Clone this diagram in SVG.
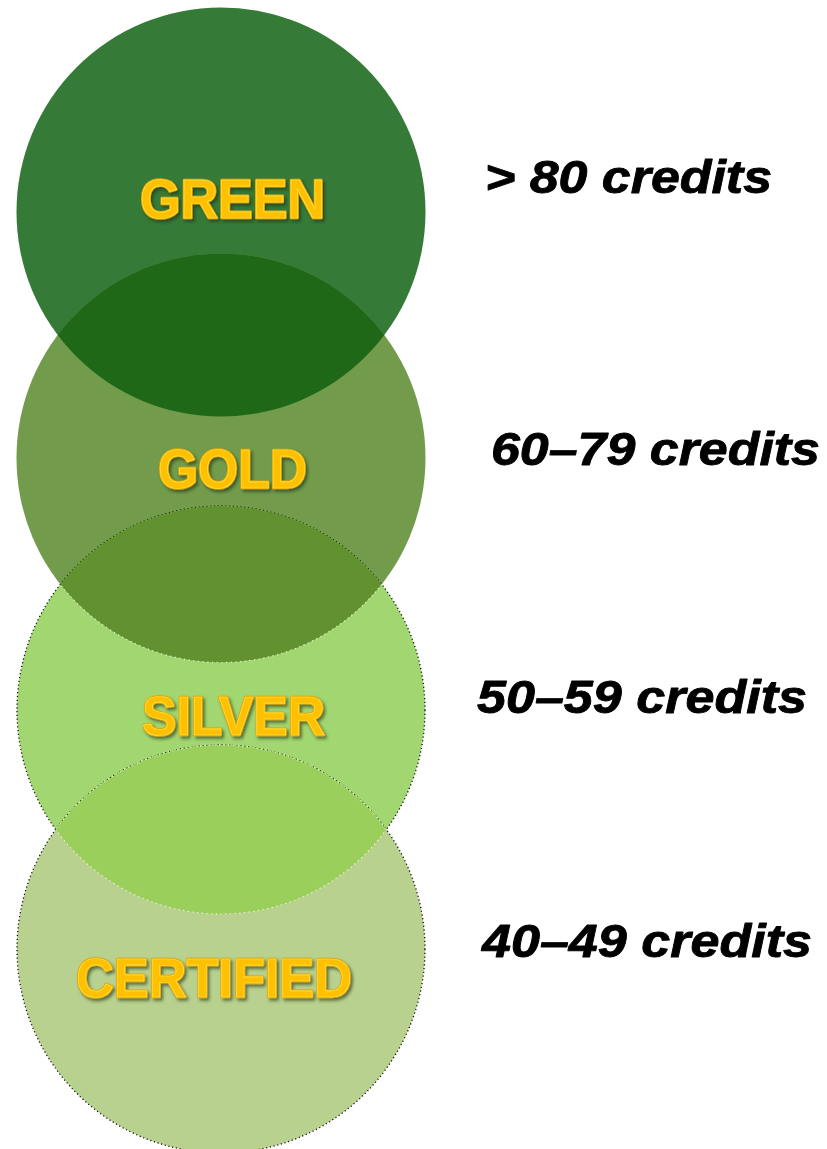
<svg xmlns="http://www.w3.org/2000/svg" width="827" height="1149" viewBox="0 0 827 1149">
  <defs>
    <filter id="shadow" x="-10%" y="-20%" width="130%" height="150%">
      <feDropShadow dx="2" dy="2.5" stdDeviation="1.5" flood-color="#1a2e10" flood-opacity="0.6"/>
    </filter>
    <clipPath id="clipGreen"><circle cx="221" cy="212" r="204.5"/></clipPath>
    <clipPath id="clipGold"><circle cx="221" cy="458" r="204.5"/></clipPath>
    <clipPath id="clipSilver"><circle cx="221" cy="710" r="204"/></clipPath>
    <clipPath id="clipCert"><circle cx="221" cy="949" r="204"/></clipPath>
  </defs>
  <style>
    .lvl { font-family: "Liberation Sans", Arial, sans-serif; font-weight: bold; font-size: 55px; fill: #ffc000; stroke: #e3a400; stroke-width: 2.5; paint-order: stroke; stroke-linejoin: round; filter: url(#shadow); }
    .hl { font-family: "Liberation Sans", Arial, sans-serif; font-weight: bold; font-size: 55px; fill: none; stroke: #ffe44a; stroke-width: 0.7; }
    .cred { font-family: "Liberation Sans", Arial, sans-serif; font-weight: bold; font-style: italic; font-size: 47px; fill: #000000; stroke: #000000; stroke-width: 0.9; stroke-linejoin: round; }
    .dots { fill: none; stroke: #111; stroke-width: 1.3; stroke-dasharray: 1.2 2.6; }
    .wdots { fill: none; stroke: #ffffff; stroke-width: 1.2; stroke-dasharray: 1.2 3.5; opacity: 0.8; }
  </style>

  <g id="node-green">
    <circle cx="221" cy="212" r="204.5" fill="#367a38"/>
    <text class="lvl" x="140" y="218" textLength="185" lengthAdjust="spacingAndGlyphs">GREEN</text>
    <text class="hl" x="140" y="218" textLength="185" lengthAdjust="spacingAndGlyphs">GREEN</text>
  </g>

  <g id="node-gold">
    <circle cx="221" cy="458" r="204.5" fill="#729c4c"/>
    <circle cx="221" cy="458" r="204.5" fill="#1e6818" clip-path="url(#clipGreen)"/>
    <text class="lvl" x="158" y="488" textLength="149" lengthAdjust="spacingAndGlyphs">GOLD</text>
    <text class="hl" x="158" y="488" textLength="149" lengthAdjust="spacingAndGlyphs">GOLD</text>
  </g>

  <g id="node-silver">
    <circle cx="221" cy="710" r="204" fill="#a2d670"/>
    <circle cx="221" cy="710" r="204" class="dots"/>
    <circle cx="221" cy="710" r="204" fill="#62922f" clip-path="url(#clipGold)"/>
    <circle cx="221" cy="458" r="204.5" class="wdots" clip-path="url(#clipSilver)"/>
    <text class="lvl" x="142" y="735" textLength="183" lengthAdjust="spacingAndGlyphs">SILVER</text>
    <text class="hl" x="142" y="735" textLength="183" lengthAdjust="spacingAndGlyphs">SILVER</text>
  </g>

  <g id="node-certified">
    <circle cx="221" cy="949" r="204" fill="#b8d18e"/>
    <circle cx="221" cy="949" r="204" class="dots"/>
    <circle cx="221" cy="949" r="204" fill="#9acf5c" clip-path="url(#clipSilver)"/>
    <circle cx="221" cy="949" r="204" class="wdots" clip-path="url(#clipSilver)"/>
    <circle cx="221" cy="710" r="204" class="wdots" clip-path="url(#clipCert)"/>
    <text class="lvl" x="76" y="997" textLength="276" lengthAdjust="spacingAndGlyphs">CERTIFIED</text>
    <text class="hl" x="76" y="997" textLength="276" lengthAdjust="spacingAndGlyphs">CERTIFIED</text>
  </g>

  <g id="labels">
    <text class="cred" x="485" y="193" textLength="287" lengthAdjust="spacingAndGlyphs">&gt; 80 credits</text>
    <text class="cred" x="491" y="465" textLength="329" lengthAdjust="spacingAndGlyphs">60–79 credits</text>
    <text class="cred" x="477" y="713" textLength="330" lengthAdjust="spacingAndGlyphs">50–59 credits</text>
    <text class="cred" x="482" y="957" textLength="330" lengthAdjust="spacingAndGlyphs">40–49 credits</text>
  </g>

  <g id="connectors"/>
</svg>
